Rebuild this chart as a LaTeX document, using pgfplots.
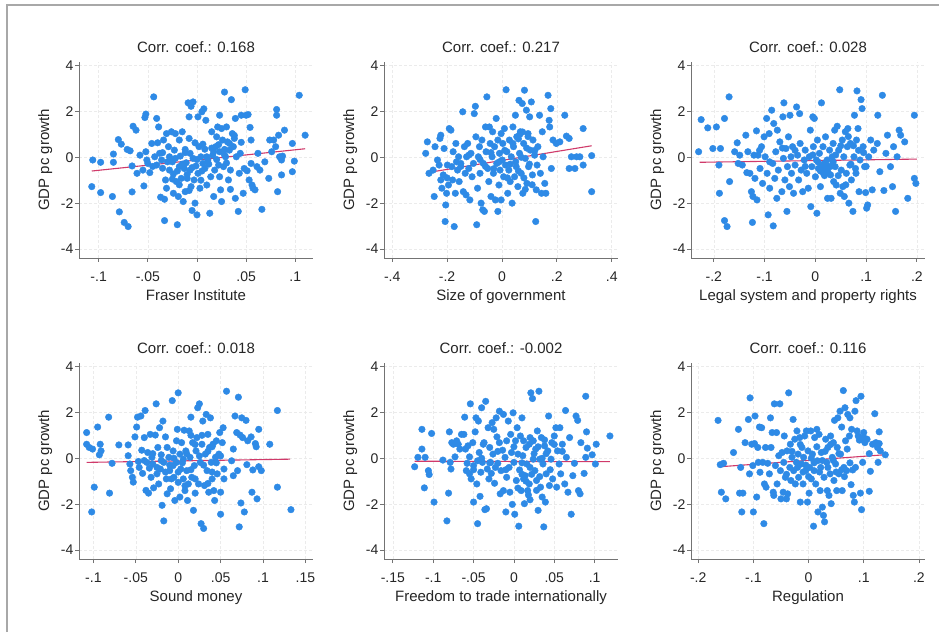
\documentclass[border=0pt]{standalone}
\usepackage{pgfplots}
\usepackage{pgfplotstable}
\pgfplotsset{compat=1.18}
\usepackage{fontspec}
\setmainfont{Liberation Sans}
\definecolor{dotcol}{HTML}{2E8AE6}
\definecolor{fitcol}{HTML}{D03A6A}
\definecolor{framecol}{HTML}{A8A8A8}

% scatter data (x = index component, y = GDP pc growth)
\pgfplotstableread{
x y
-0.106 -0.12
-0.098 -0.22
-0.107 -1.28
-0.098 -1.54
-0.086 -1.71
-0.085 0.14
-0.085 -0.22
-0.080 0.77
-0.077 0.57
-0.079 -2.38
-0.074 -2.84
-0.070 -3.02
-0.071 0.34
-0.068 0.28
-0.066 -0.38
-0.066 -1.51
-0.065 1.35
-0.062 1.18
-0.061 -0.70
-0.058 0.09
-0.055 -0.56
-0.054 -1.25
-0.053 1.73
-0.052 1.88
-0.052 0.24
-0.051 -0.12
-0.050 -0.27
-0.048 -0.67
-0.046 0.60
-0.044 2.63
-0.043 0.02
-0.041 -0.34
-0.041 1.69
-0.040 0.63
-0.039 1.32
-0.038 0.17
-0.037 -1.74
-0.036 -0.12
-0.035 -0.48
-0.034 0.75
-0.033 -1.83
-0.033 -2.76
-0.032 -0.99
-0.031 1.03
-0.031 -1.35
-0.029 0.46
-0.028 0.02
-0.028 -0.56
-0.026 1.11
-0.025 -0.20
-0.024 -0.73
-0.024 -1.57
-0.023 0.31
-0.022 1.03
-0.021 -1.06
-0.020 -2.94
-0.019 -1.71
-0.018 -0.41
-0.018 0.75
-0.017 0.05
-0.016 -0.92
-0.015 1.11
-0.014 -1.93
-0.013 -0.49
-0.012 0.34
-0.012 -1.50
-0.011 -0.24
-0.010 -0.92
-0.009 2.37
-0.008 0.82
-0.008 1.76
-0.007 0.17
-0.007 -0.56
-0.006 2.22
-0.006 -1.28
-0.005 -2.32
-0.004 2.41
-0.004 -0.05
-0.003 -0.99
-0.002 0.63
-0.002 -2.00
-0.001 -0.38
0.000 -2.51
0.001 1.76
0.001 -0.70
0.002 0.46
0.003 -1.35
0.004 0.02
0.005 1.98
0.006 -0.27
0.006 0.57
0.007 2.11
0.008 -0.49
0.009 1.61
0.010 -1.21
0.010 0.02
0.011 -0.12
0.013 -2.44
0.014 -0.85
0.015 1.11
0.016 0.09
0.017 -1.71
0.017 0.24
0.018 -0.56
0.019 0.46
0.020 0.89
0.021 1.32
0.022 -0.34
0.023 1.83
0.023 -0.85
0.023 0.24
0.024 -1.42
0.025 1.25
0.025 -1.93
0.026 0.75
0.027 -0.41
0.028 0.34
0.028 2.84
0.029 0.02
0.030 1.32
0.031 0.67
0.032 -0.99
0.033 0.31
0.034 -0.56
0.034 -1.40
0.035 2.51
0.036 1.03
0.037 0.46
0.038 0.82
0.039 1.69
0.039 -1.79
0.040 0.02
0.042 -2.36
0.043 -0.70
0.044 0.17
0.045 1.83
0.047 -1.57
0.048 -0.49
0.049 2.94
0.050 1.83
0.051 -0.59
0.052 1.86
0.053 -0.99
0.054 1.30
0.055 -0.27
0.055 0.75
0.056 -1.21
0.057 -1.35
0.059 -1.42
0.061 -0.41
0.062 0.17
0.064 -0.56
0.066 -2.27
0.069 -0.20
0.073 -0.92
0.074 0.75
0.076 0.24
0.078 0.75
0.080 0.46
0.081 1.83
0.081 2.08
0.082 -1.50
0.083 0.96
0.084 0.02
0.086 -0.77
0.086 -0.12
0.087 0.05
0.089 1.18
0.097 -0.63
0.097 0.60
0.099 -0.17
0.104 2.70
0.110 0.96
-0.020 -0.60
-0.015 -0.30
-0.010 -0.75
-0.005 -0.45
0.000 -0.10
0.005 -0.60
-0.025 -0.95
-0.030 -0.20
0.012 -0.30
0.020 -0.10
-0.018 -1.20
-0.008 -1.45
0.004 -1.00
0.028 0.10
0.033 0.60
0.038 0.95
0.022 0.55
-0.035 0.20
-0.045 -0.40
0.015 0.40
-0.012 0.20
0.008 0.35
-0.022 -0.05
0.030 -0.25
0.045 0.65
}\fraser

\pgfplotstableread{
x y
-0.278 0.17
-0.272 0.67
-0.266 -0.70
-0.251 -0.56
-0.247 -1.71
-0.244 0.46
-0.235 -0.12
-0.229 -0.34
-0.226 0.82
-0.223 0.96
-0.223 -0.99
-0.219 -1.35
-0.214 -0.77
-0.211 0.38
-0.207 -2.80
-0.205 -2.08
-0.202 -1.57
-0.199 -0.34
-0.195 -1.21
-0.192 1.25
-0.186 1.18
-0.183 -0.41
-0.180 -0.99
-0.178 0.24
-0.174 -3.02
-0.170 -1.57
-0.168 0.60
-0.166 -0.20
-0.162 -0.56
-0.158 0.02
-0.156 -1.06
-0.150 -0.27
-0.143 1.98
-0.141 -1.50
-0.137 0.46
-0.134 -0.70
-0.131 -1.64
-0.129 0.02
-0.125 0.60
-0.121 -0.49
-0.117 -1.86
-0.113 0.17
-0.109 -0.85
-0.104 -0.27
-0.101 1.90
-0.097 2.22
-0.095 0.89
-0.092 -2.94
-0.089 -1.35
-0.086 0.02
-0.082 0.46
-0.080 -0.70
-0.076 -2.00
-0.073 0.75
-0.070 -2.29
-0.068 -0.27
-0.064 -2.36
-0.060 1.32
-0.058 0.24
-0.055 2.63
-0.052 -0.49
-0.048 -1.06
-0.046 1.32
-0.043 0.60
-0.040 -1.71
-0.036 0.02
-0.034 1.11
-0.031 -0.70
-0.027 0.46
-0.024 -1.86
-0.021 1.69
-0.019 -0.27
-0.015 0.75
-0.015 -2.36
-0.011 -1.21
-0.009 0.17
-0.007 -0.56
-0.003 1.03
-0.003 -1.86
0.001 -0.12
0.003 0.60
0.006 -0.85
0.009 1.25
0.013 -0.34
0.015 2.94
0.018 0.24
0.021 -1.57
0.025 -0.56
0.027 0.75
0.030 -1.06
0.034 0.02
0.037 -2.00
0.040 1.32
0.042 0.46
0.046 -0.85
0.049 1.83
0.052 -0.41
0.054 0.89
0.058 -1.28
0.062 2.48
0.064 0.17
0.067 1.11
0.070 -0.70
0.074 2.34
0.076 -1.57
0.079 0.60
0.082 2.92
0.085 -0.05
0.089 2.05
0.091 -1.14
0.095 1.03
0.097 -0.41
0.101 1.76
0.103 0.31
0.107 2.41
0.111 -0.77
0.113 0.75
0.119 0.09
0.123 -2.80
0.125 -1.42
0.128 -0.34
0.131 0.46
0.137 1.83
0.140 -0.70
0.144 -1.57
0.147 1.11
0.150 0.02
0.156 -1.14
0.160 -1.57
0.168 2.70
0.172 1.61
0.174 1.32
0.178 2.12
0.180 -0.49
0.186 0.75
0.198 0.60
0.211 0.67
0.229 1.83
0.235 0.92
0.245 0.82
0.245 -0.49
0.253 0.02
0.266 -0.49
0.272 0.02
0.284 0.02
0.296 -0.34
0.296 1.25
0.327 0.07
0.327 -1.50
0.060 -0.60
0.070 0.00
0.080 -0.90
0.090 0.40
0.100 -0.30
0.060 0.80
0.075 1.10
0.085 -1.40
0.050 -0.20
0.030 -0.30
0.010 0.30
-0.010 -0.20
-0.040 0.20
-0.060 -0.40
-0.080 -0.10
-0.120 0.10
-0.150 -0.40
-0.200 -0.90
0.110 -1.20
0.120 0.30
0.040 0.60
0.020 -0.90
-0.030 -0.50
0.095 0.90
0.065 1.00
}\sizegov

\pgfplotstableread{
x y
-0.230 0.24
-0.225 1.64
-0.212 1.28
-0.202 0.38
-0.195 1.32
-0.190 -0.34
-0.189 -1.57
-0.187 0.38
-0.179 1.69
-0.179 -2.76
-0.174 -3.02
-0.170 2.63
-0.169 -1.06
-0.159 0.24
-0.154 0.63
-0.152 -0.27
-0.149 0.09
-0.144 -0.34
-0.137 0.96
-0.135 -0.67
-0.133 0.24
-0.129 -0.70
-0.126 -1.50
-0.124 -2.84
-0.123 -1.71
-0.121 0.09
-0.119 -0.92
-0.116 1.15
-0.115 -1.86
-0.113 0.09
-0.109 -0.49
-0.106 0.46
-0.104 -1.14
-0.101 0.89
-0.099 0.02
-0.096 1.69
-0.095 -0.70
-0.093 -2.51
-0.091 1.03
-0.090 -1.35
-0.086 2.05
-0.084 -0.27
-0.083 -2.99
-0.082 1.47
-0.080 -0.92
-0.078 0.24
-0.076 -1.79
-0.075 1.18
-0.073 -0.56
-0.070 0.67
-0.066 -1.50
-0.064 1.76
-0.063 -0.05
-0.062 2.37
-0.060 -0.99
-0.058 0.38
-0.056 -2.36
-0.055 -0.41
-0.053 0.89
-0.051 -1.28
-0.050 1.83
-0.048 0.02
-0.047 -0.70
-0.045 0.46
-0.043 -1.57
-0.040 -0.34
-0.037 2.19
-0.035 0.09
-0.033 -0.99
-0.031 1.90
-0.030 0.60
-0.028 -0.56
-0.025 -1.50
-0.022 -0.12
-0.020 0.31
-0.017 -0.70
-0.014 -1.35
-0.012 0.02
-0.010 1.18
-0.009 -2.15
-0.007 -0.41
-0.005 1.76
-0.004 0.46
-0.002 1.69
0.000 -0.85
0.002 -0.12
0.003 -2.44
0.004 0.75
0.006 -0.49
0.008 0.17
0.010 -1.28
0.012 2.37
0.013 -0.34
0.015 0.46
0.016 -0.70
0.018 -0.27
0.020 0.89
0.021 -0.49
0.023 -0.12
0.024 -1.79
0.026 -0.41
0.028 0.31
0.030 -0.77
0.031 -1.79
0.033 0.02
0.035 0.60
0.036 -1.06
0.038 1.18
0.039 -0.41
0.041 -1.21
0.043 1.35
0.046 0.31
0.048 2.94
0.049 -1.57
0.051 -0.56
0.053 0.75
0.054 -1.28
0.056 0.02
0.057 -1.71
0.059 1.11
0.061 -0.70
0.063 0.46
0.064 1.25
0.066 -2.00
0.068 -0.34
0.069 0.60
0.071 -0.99
0.074 -2.36
0.076 0.02
0.077 1.83
0.079 -0.49
0.081 0.75
0.082 2.89
0.084 1.25
0.086 -1.50
0.088 -0.12
0.090 2.51
0.092 2.12
0.094 0.46
0.097 -0.41
0.099 -1.54
0.101 -2.22
0.103 -2.08
0.105 0.02
0.109 0.75
0.112 -1.42
0.115 0.31
0.122 0.60
0.123 1.83
0.127 -0.63
0.132 2.70
0.135 -1.45
0.139 0.17
0.142 0.96
0.148 -0.41
0.152 -1.28
0.154 0.46
0.158 -2.36
0.161 0.02
0.165 1.18
0.168 0.96
0.176 0.67
0.182 -1.79
0.195 1.83
0.195 -0.92
0.198 -1.14
0.010 -0.60
0.015 -0.45
0.020 -0.30
0.025 -0.65
0.018 -0.80
0.030 -0.40
0.035 -0.20
0.005 -0.20
-0.005 0.10
0.040 0.10
0.045 -0.80
0.060 -1.20
0.070 -0.30
0.075 0.50
0.065 0.90
0.080 -0.70
-0.020 -0.40
-0.040 0.30
-0.065 0.40
-0.090 -0.20
-0.110 0.30
0.095 0.20
0.100 -0.40
0.085 0.30
0.050 0.50
}\legal

\pgfplotstableread{
x y
-0.108 1.12
-0.108 0.61
-0.105 0.47
-0.102 -2.34
-0.101 0.40
-0.099 -1.26
-0.095 1.36
-0.092 0.61
-0.091 0.32
-0.093 0.15
-0.082 1.79
-0.081 -1.52
-0.078 -0.22
-0.070 0.58
-0.059 0.58
-0.059 0.11
-0.057 -0.25
-0.056 -0.54
-0.054 -0.83
-0.053 -1.04
-0.051 0.93
-0.049 1.36
-0.048 1.79
-0.047 -0.14
-0.046 -0.40
-0.044 1.84
-0.043 0.35
-0.042 -0.66
-0.040 0.90
-0.039 2.08
-0.038 -1.40
-0.037 -0.18
-0.036 0.25
-0.035 -1.52
-0.034 -0.43
-0.033 1.04
-0.032 -0.83
-0.031 0.04
-0.030 -0.25
-0.029 -1.29
-0.027 1.01
-0.026 2.37
-0.025 -0.68
-0.024 0.47
-0.023 -1.12
-0.022 1.33
-0.021 -0.47
-0.020 0.15
-0.019 -2.05
-0.018 1.62
-0.017 -0.18
-0.017 -2.73
-0.015 0.93
-0.014 -0.90
-0.013 0.47
-0.013 -1.55
-0.011 0.04
-0.010 -0.54
-0.009 -1.33
-0.007 2.51
-0.006 -0.32
-0.006 0.32
-0.005 -0.83
-0.004 -1.84
-0.002 0.76
-0.002 -0.18
-0.001 1.26
0.000 2.85
0.000 -1.05
0.002 0.18
0.002 -1.69
0.003 -0.47
0.004 0.68
0.006 -0.90
0.006 -0.04
0.007 1.22
0.008 -1.41
0.009 0.32
0.010 -0.54
0.011 -1.84
0.012 -1.12
0.013 1.19
0.014 0.04
0.015 1.79
0.016 -0.83
0.017 0.68
0.018 -2.27
0.019 -0.32
0.020 -1.52
0.021 0.32
0.022 0.90
0.023 2.20
0.024 -1.12
0.025 2.37
0.026 -0.18
0.027 -2.85
0.028 0.61
0.029 1.62
0.030 -3.06
0.031 -1.19
0.032 0.18
0.033 1.91
0.034 -0.54
0.035 1.04
0.036 -1.48
0.037 0.47
0.038 1.76
0.039 -0.18
0.040 -0.90
0.041 0.61
0.042 -1.41
0.043 -1.84
0.044 0.04
0.045 0.76
0.046 -0.68
0.048 0.18
0.049 1.12
0.050 -1.48
0.050 -2.44
0.052 0.68
0.053 1.33
0.054 -0.47
0.054 -0.90
0.057 2.92
0.063 -0.11
0.065 0.40
0.065 -0.76
0.067 1.84
0.069 1.12
0.070 -0.54
0.071 2.66
0.072 -2.99
0.073 1.01
0.074 -1.95
0.075 1.76
0.076 0.90
0.078 -2.34
0.080 1.65
0.081 -0.28
0.082 0.76
0.086 0.93
0.087 -1.48
0.088 -0.51
0.091 0.64
0.092 0.50
0.093 -1.77
0.095 1.26
0.095 -0.37
0.098 -0.54
0.108 0.61
0.117 2.08
0.117 -1.26
0.133 -2.24
0.000 -0.60
0.005 -0.20
0.010 0.20
0.015 -0.50
0.020 -0.90
0.025 0.10
0.030 -0.30
0.035 0.30
0.040 0.50
0.045 -0.20
-0.005 0.00
-0.010 -0.30
-0.015 -0.60
-0.020 -0.10
-0.025 -0.40
-0.030 0.20
0.020 0.60
0.028 1.00
0.015 1.00
0.040 -0.60
0.008 -1.20
-0.008 -0.90
0.050 0.10
0.035 -1.10
-0.040 -0.10
}\sound

\pgfplotstableread{
x y
-0.123 -0.37
-0.119 0.04
-0.114 1.26
-0.114 0.40
-0.111 -1.29
-0.110 0.04
-0.106 -0.54
-0.105 -0.71
-0.102 1.08
-0.099 -1.91
-0.088 -0.08
-0.083 -2.73
-0.081 -1.52
-0.080 1.15
-0.079 -0.18
-0.078 -0.47
-0.077 0.68
-0.075 0.61
-0.073 0.06
-0.071 0.76
-0.069 0.61
-0.067 0.40
-0.065 1.04
-0.062 1.04
-0.061 1.79
-0.060 0.40
-0.059 -0.54
-0.058 -0.22
-0.057 0.54
-0.055 -0.68
-0.055 0.06
-0.054 2.37
-0.053 -0.90
-0.051 0.68
-0.050 -0.32
-0.050 -1.91
-0.048 1.15
-0.047 1.76
-0.046 -1.12
-0.045 -0.11
-0.045 -2.85
-0.044 1.62
-0.043 0.25
-0.042 -1.66
-0.041 -0.61
-0.040 2.20
-0.039 -0.18
-0.038 0.61
-0.037 0.68
-0.036 -2.24
-0.035 2.48
-0.034 -2.20
-0.033 -0.47
-0.032 1.33
-0.031 -0.90
-0.030 0.47
-0.029 -0.18
-0.028 -0.66
-0.027 1.55
-0.026 0.18
-0.025 1.26
-0.024 -1.09
-0.023 -0.40
-0.022 1.76
-0.021 0.93
-0.020 -0.22
-0.018 2.05
-0.018 0.68
-0.017 -1.55
-0.016 -0.54
-0.014 0.35
-0.013 -1.41
-0.013 1.91
-0.011 0.04
-0.010 -2.34
-0.009 0.76
-0.009 -0.83
-0.007 1.62
-0.006 -0.40
-0.005 -1.48
-0.004 1.04
-0.003 0.25
-0.002 -2.01
-0.001 1.98
0.000 -0.18
0.001 -2.44
0.002 0.76
0.003 -0.97
0.004 1.33
0.005 0.18
0.006 -2.96
0.007 -0.51
0.008 0.97
0.009 -1.41
0.010 1.76
0.011 0.11
0.012 0.76
0.013 -1.98
0.014 -0.76
0.015 0.47
0.016 -0.25
0.017 -1.41
0.019 0.61
0.019 -1.12
0.020 -1.81
0.021 2.85
0.023 2.60
0.024 -0.04
0.024 0.76
0.026 -0.54
0.027 0.40
0.028 -0.97
0.029 1.19
0.030 -2.27
0.031 2.92
0.032 -0.04
0.033 -1.26
0.034 0.90
0.035 -1.69
0.036 -0.25
0.037 -2.99
0.038 0.54
0.039 -1.91
0.040 -0.68
0.042 0.32
0.043 1.84
0.044 -1.19
0.046 -0.04
0.047 0.68
0.048 -0.90
0.050 0.97
0.052 1.33
0.053 -1.26
0.054 0.32
0.056 -0.25
0.057 1.33
0.058 -0.68
0.060 0.61
0.063 -1.12
0.064 2.08
0.065 0.04
0.067 -1.48
0.069 0.90
0.071 -2.44
0.073 -0.76
0.075 -0.22
0.077 1.84
0.079 1.65
0.080 -1.41
0.082 -1.55
0.083 0.68
0.087 -0.66
0.089 0.04
0.089 2.70
0.090 1.15
0.091 0.44
0.097 0.15
0.101 -0.25
0.102 0.61
0.119 0.97
0.010 -0.70
0.015 -1.00
0.020 -0.40
0.025 0.20
0.030 0.50
0.035 0.00
0.005 -1.30
0.000 0.50
0.010 -0.20
0.040 0.20
0.045 -0.50
0.020 0.90
-0.010 -0.50
-0.020 0.30
-0.030 -0.20
-0.040 0.00
-0.050 -0.50
0.028 -1.40
0.018 -1.60
0.050 0.60
0.060 0.30
0.038 0.80
0.012 -0.90
0.022 -0.70
0.032 -0.80
}\trade

\pgfplotstableread{
x y
-0.164 1.65
-0.160 -0.28
-0.158 -1.48
-0.154 -0.22
-0.150 -1.77
-0.136 0.25
-0.127 1.26
-0.125 -1.52
-0.123 -0.40
-0.121 -2.34
-0.119 -1.52
-0.115 0.68
-0.109 1.69
-0.107 -0.68
-0.106 2.63
-0.103 0.61
-0.101 -0.32
-0.100 -2.34
-0.098 0.64
-0.097 1.84
-0.094 -1.69
-0.092 0.47
-0.091 -0.18
-0.089 1.36
-0.088 -0.61
-0.085 1.33
-0.083 -0.18
-0.081 -2.85
-0.080 -1.12
-0.078 0.47
-0.077 -1.26
-0.074 -0.22
-0.071 -0.68
-0.069 1.76
-0.068 0.47
-0.066 1.12
-0.064 -1.48
-0.063 -1.62
-0.062 2.37
-0.060 -0.32
-0.058 1.12
-0.057 -1.12
-0.054 0.11
-0.052 2.37
-0.051 -0.54
-0.050 -1.77
-0.048 0.25
-0.046 -1.48
-0.045 -0.18
-0.044 0.97
-0.042 -0.83
-0.040 -1.77
-0.039 0.32
-0.038 -1.55
-0.036 2.85
-0.034 -0.40
-0.033 0.61
-0.032 -0.97
-0.030 0.04
-0.028 1.69
-0.027 -0.54
-0.025 0.83
-0.024 -1.12
-0.022 -0.18
-0.021 1.19
-0.019 0.18
-0.018 -0.83
-0.016 0.90
-0.015 -1.91
-0.013 -0.25
-0.012 0.47
-0.010 -1.12
-0.009 0.04
-0.007 0.97
-0.005 -0.54
-0.004 1.19
-0.002 -1.91
-0.001 0.32
0.001 -1.52
0.002 -0.40
0.004 1.19
0.005 -0.90
0.007 0.18
0.009 -2.96
0.010 -0.54
0.011 0.90
0.013 -1.12
0.015 1.26
0.016 -0.11
0.017 -2.34
0.019 1.04
0.021 -1.41
0.022 -0.40
0.023 0.25
0.025 -2.13
0.027 -2.49
0.028 -0.83
0.029 -2.77
0.031 0.83
0.033 -0.18
0.034 -1.41
0.035 0.47
0.037 -1.62
0.039 -0.68
0.040 0.97
0.041 -1.98
0.043 0.04
0.045 0.68
0.046 -0.97
0.047 1.65
0.049 -0.25
0.051 -1.41
0.052 0.47
0.053 1.76
0.055 -0.68
0.057 2.05
0.058 0.18
0.060 1.36
0.061 -1.41
0.063 2.95
0.064 -0.40
0.066 2.20
0.067 0.76
0.069 -0.54
0.071 1.91
0.074 0.97
0.075 1.76
0.077 -1.15
0.078 1.26
0.080 -0.51
0.081 -1.62
0.083 -1.91
0.084 2.05
0.086 2.51
0.088 1.19
0.090 0.97
0.092 0.79
0.094 -1.52
0.095 2.70
0.096 -2.24
0.098 -0.18
0.100 1.12
0.102 0.68
0.106 0.83
0.110 -1.44
0.112 -0.57
0.116 0.61
0.120 1.94
0.122 0.68
0.125 0.47
0.126 -0.18
0.128 1.15
0.128 0.64
0.130 0.32
0.139 0.15
-0.010 -0.60
-0.005 -0.30
0.000 -0.80
0.005 0.00
0.010 -0.20
0.015 0.50
0.020 -0.60
0.025 -0.10
0.030 0.30
0.035 -0.40
0.040 0.60
0.045 -0.10
0.050 -0.60
0.055 0.20
0.060 -0.50
0.065 -0.80
-0.020 -0.40
-0.030 0.30
-0.040 -0.70
-0.015 0.60
0.070 0.40
0.075 -0.20
0.085 -0.40
0.100 0.90
0.110 0.20
}\regul

\pgfplotsset{
  panel/.style={
    scale only axis, width=234pt, height=196pt,
    ymin=-4.39, ymax=4.15,
    ytick={-4,-2,0,2,4}, yticklabels={-4,-2,0,2,4},
    axis x line*=bottom, axis y line*=left,
    axis line style={-, black!55, line width=0.8pt},
    tick align=outside, major tick length=4pt,
    tick style={black!55, line width=0.8pt},
    grid=major, grid style={densely dashed, black!8, line width=0.6pt},
    tick label style={font=\fontsize{14}{16}\selectfont, text=black!85},
    yticklabel style={inner sep=1.5pt},
    xticklabel style={yshift=-6pt},
    title style={at={(axis description cs:0.5,1.016)}, anchor=base,
      font=\fontsize{15}{17}\selectfont, text=black!85, inner sep=0pt},
    xlabel style={at={(axis description cs:0.5,-0.215)}, anchor=base,
      font=\fontsize{15}{17}\selectfont, text=black!85, inner sep=0pt},
    ylabel style={at={(axis description cs:-0.128,0.5)}, anchor=base,
      font=\fontsize{15}{17}\selectfont, text=black!85, inner sep=0pt},
    ylabel={GDP pc growth},
    clip=false,
  },
  dots/.style={only marks, mark=*, mark size=3.3pt, color=dotcol},
  fit/.style={no marks, color=fitcol, line width=1.1pt},
}

\begin{document}
\begin{tikzpicture}[x=1pt,y=1pt]
\path[use as bounding box, fill=white] (0,0) rectangle (939,632);
\draw[framecol, line width=2pt] (7,0) -- (7,627) -- (939,627);

\begin{axis}[panel, at={(79pt,374pt)}, anchor=south west,
  xmin=-0.12, xmax=0.118,
  xtick={-0.1,-0.05,0,0.05,0.1}, xticklabels={-.1,-.05,0,.05,.1},
  title={Corr. coef.: 0.168}, xlabel={Fraser Institute}]
\addplot[dots] table {\fraser};
\addplot[fit] coordinates {(-0.107,-0.60) (0.110,0.37)};
\end{axis}

\begin{axis}[panel, at={(384pt,374pt)}, anchor=south west,
  xmin=-0.43, xmax=0.423,
  xtick={-0.4,-0.2,0,0.2,0.4}, xticklabels={-.4,-.2,0,.2,.4},
  title={Corr. coef.: 0.217}, xlabel={Size of government}]
\addplot[dots] table {\sizegov};
\addplot[fit] coordinates {(-0.272,-0.67) (0.327,0.50)};
\end{axis}

\begin{axis}[panel, at={(691pt,374pt)}, anchor=south west,
  xmin=-0.245, xmax=0.216,
  xtick={-0.2,-0.1,0,0.1,0.2}, xticklabels={-.2,-.1,0,.1,.2},
  title={Corr. coef.: 0.028}, xlabel={Legal system and property rights}]
\addplot[dots] table {\legal};
\addplot[fit] coordinates {(-0.228,-0.22) (0.200,-0.08)};
\end{axis}

\begin{axis}[panel, at={(79pt,73pt)}, anchor=south west,
  xmin=-0.117, xmax=0.159,
  xtick={-0.1,-0.05,0,0.05,0.1,0.15}, xticklabels={-.1,-.05,0,.05,.1,.15},
  title={Corr. coef.: 0.018}, xlabel={Sound money}]
\addplot[dots] table {\sound};
\addplot[fit] coordinates {(-0.108,-0.18) (0.132,-0.04)};
\end{axis}

\begin{axis}[panel, at={(384pt,73pt)}, anchor=south west,
  xmin=-0.161, xmax=0.129,
  xtick={-0.15,-0.1,-0.05,0,0.05,0.1}, xticklabels={-.15,-.1,-.05,0,.05,.1},
  title={Corr. coef.: -0.002}, xlabel={Freedom to trade internationally}]
\addplot[dots] table {\trade};
\addplot[fit] coordinates {(-0.123,-0.13) (0.119,-0.15)};
\end{axis}

\begin{axis}[panel, at={(691pt,73pt)}, anchor=south west,
  xmin=-0.213, xmax=0.211,
  xtick={-0.2,-0.1,0,0.1,0.2}, xticklabels={-.2,-.1,0,.1,.2},
  title={Corr. coef.: 0.116}, xlabel={Regulation}]
\addplot[dots] table {\regul};
\addplot[fit] coordinates {(-0.160,-0.37) (0.137,0.15)};
\end{axis}
\end{tikzpicture}
\end{document}
